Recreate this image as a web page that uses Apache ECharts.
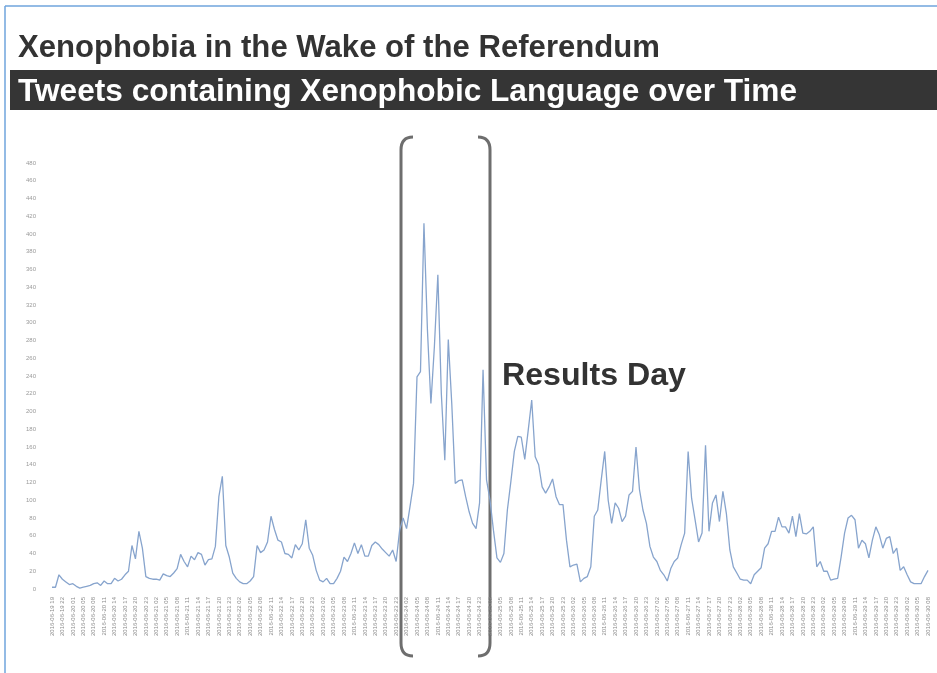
<!DOCTYPE html>
<html>
<head>
<meta charset="utf-8">
<script src="https://cdn.jsdelivr.net/npm/echarts@6/dist/echarts.min.js"></script>
<style>
html,body{margin:0;padding:0;background:#fff;}
#chart{width:937px;height:673px;}
</style>
</head>
<body>
<div id="chart"></div>
<script>
// ---- data ----
const titleText = "Xenophobia in the Wake of the Referendum";
const subtitleText = "Tweets containing Xenophobic Language over Time";
const annotationText = "Results Day";

// hourly tweet counts, starting 2016-06-19 19:00 (hour 2016-06-20 02 missing in the source)
const tweetCounts = [
  2, 2, 16, 11, 8, 5, 6, 3, 1, 2, 3, 4, 6, 7, 4, 9, 6, 6,
  12, 9, 11, 16, 20, 49, 34, 65, 46, 14, 12, 11, 11, 10, 17, 15, 14, 18, 23, 39,
  31, 25, 37, 33, 41, 39, 27, 33, 34, 48, 104, 127, 49, 36, 18, 12, 8, 6, 6, 9,
  14, 49, 41, 44, 53, 82, 67, 55, 53, 40, 39, 35, 50, 44, 51, 78, 46, 38, 21, 10,
  8, 12, 6, 6, 12, 20, 36, 31, 40, 52, 40, 50, 37, 37, 49, 53, 50, 45, 41, 37,
  44, 31, 66, 80, 68, 93, 119, 239, 245, 412, 292, 209, 273, 354, 220, 145, 281, 209, 119, 122,
  123, 104, 87, 74, 68, 97, 247, 123, 100, 66, 35, 30, 40, 89, 121, 155, 172, 171, 146, 179,
  213, 149, 140, 115, 108, 115, 124, 104, 95, 95, 55, 25, 27, 28, 8, 12, 14, 25, 82, 89,
  123, 155, 100, 74, 97, 91, 76, 82, 106, 110, 160, 112, 89, 74, 48, 36, 31, 21, 16, 9,
  23, 31, 35, 50, 63, 155, 102, 78, 53, 63, 162, 65, 97, 106, 76, 110, 85, 44, 25, 18,
  11, 10, 10, 6, 16, 20, 24, 46, 51, 65, 65, 81, 70, 70, 63, 82, 59, 85, 63, 62,
  65, 70, 25, 31, 20, 20, 10, 11, 12, 36, 63, 80, 83, 78, 46, 55, 51, 35, 55, 70,
  61, 46, 57, 59, 40, 46, 21, 25, 16, 8, 6, 6, 6, 14, 21
];
const startTime = "2016-06-19T19:00:00Z";
const missingHours = ["2016-06-20 02"];
const yTicks = { min: 0, max: 480, step: 20 };

// ---- build hourly category labels ----
function pad(n){ return (n < 10 ? "0" : "") + n; }
function fmt(d){
  return d.getUTCFullYear() + "-" + pad(d.getUTCMonth()+1) + "-" + pad(d.getUTCDate()) + " " + pad(d.getUTCHours());
}
const categories = [];
let t = new Date(startTime).getTime();
while (categories.length < tweetCounts.length) {
  const s = fmt(new Date(t));
  if (missingHours.indexOf(s) < 0) categories.push(s);
  t += 3600000;
}

// condensed heading text: scale horizontally to the width seen in the reference
const measureCtx = document.createElement('canvas').getContext('2d');
function headText(text, x, yMid, size, targetW, fill) {
  measureCtx.font = 'bold ' + size + 'px "Liberation Sans"';
  const w = measureCtx.measureText(text).width;
  return {
    type: 'text', x: x, y: yMid, scaleX: targetW / w, silent: true,
    style: { text: text, fill: fill, fontFamily: 'Liberation Sans', fontWeight: 'bold', fontSize: size, textVerticalAlign: 'middle', textAlign: 'left' }
  };
}

function bracket(xEdge, xEnd, yTop, yBot, r) {
  const st = { stroke: '#6e6e6e', lineWidth: 3, fill: 'none' };
  return {
    type: 'group', silent: true,
    children: [
      { type: 'bezierCurve', shape: { x1: xEnd, y1: yTop, x2: xEdge, y2: yTop + r, cpx1: xEdge, cpy1: yTop }, style: st },
      { type: 'line', shape: { x1: xEdge, y1: yTop + r, x2: xEdge, y2: yBot - r }, style: st },
      { type: 'bezierCurve', shape: { x1: xEdge, y1: yBot - r, x2: xEnd, y2: yBot, cpx1: xEdge, cpy1: yBot }, style: st }
    ]
  };
}

const chart = echarts.init(document.getElementById('chart'), null, {renderer: 'canvas'});
const option = {
  backgroundColor: '#ffffff',
  animation: false,
  grid: { left: 52, right: 9, top: 163, bottom: 84, containLabel: false },
  xAxis: {
    type: 'category',
    data: categories,
    boundaryGap: false,
    axisLine: { show: false },
    axisTick: { show: false },
    axisLabel: {
      interval: 2,
      rotate: 90,
      fontSize: 6,
      color: '#8c8c8c',
      margin: 8,
      fontFamily: 'Liberation Sans'
    },
    splitLine: { show: false }
  },
  yAxis: {
    type: 'value',
    min: yTicks.min,
    max: yTicks.max,
    interval: yTicks.step,
    axisLine: { show: false },
    axisTick: { show: false },
    splitLine: { show: false },
    axisLabel: { fontSize: 6, color: '#9a9a9a', margin: 16, fontFamily: 'Liberation Sans' }
  },
  series: [{
    type: 'line',
    data: tweetCounts,
    showSymbol: false,
    symbol: 'none',
    lineStyle: { color: '#87a4cd', width: 1.3 },
    itemStyle: { color: '#87a4cd' }
  }],
  graphic: [
    { type: 'line', shape: { x1: 5, y1: 6, x2: 937, y2: 6 }, style: { stroke: '#6fa5dc', lineWidth: 1.5 }, silent: true },
    { type: 'line', shape: { x1: 5, y1: 6, x2: 5, y2: 673 }, style: { stroke: '#6fa5dc', lineWidth: 1.5 }, silent: true },
    headText(titleText, 18, 48, 31, 642, '#333333'),
    { type: 'rect', shape: { x: 10, y: 70, width: 927, height: 40 }, style: { fill: '#353535' }, silent: true },
    headText(subtitleText, 18, 92, 31, 779, '#ffffff'),
    headText(annotationText, 502, 376, 31, 184, '#333333'),
    bracket(401, 413, 137, 656, 13),
    bracket(490, 478, 137, 656, 13)
  ]
};
chart.setOption(option);
</script>
</body>
</html>
